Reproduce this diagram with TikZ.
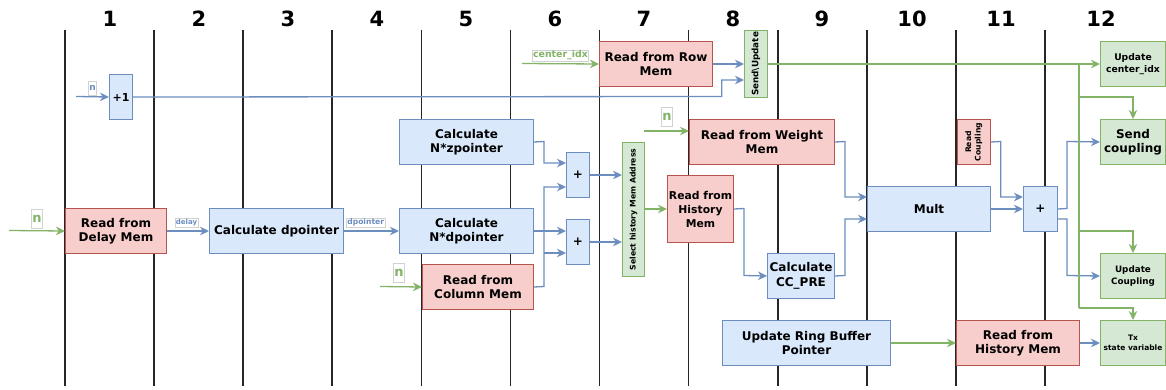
\documentclass[tikz,border=0pt]{standalone}
\usepackage{fontspec}
\setmainfont{DejaVu Sans}
\usetikzlibrary{arrows.meta}
\definecolor{bfill}{HTML}{DAE8FC}
\definecolor{bline}{HTML}{6C8EBF}
\definecolor{rfill}{HTML}{F8CECC}
\definecolor{rline}{HTML}{B85450}
\definecolor{gfill}{HTML}{D5E8D4}
\definecolor{gline}{HTML}{82B366}
\tikzset{
 box/.style={rectangle, line width=1pt, inner sep=0pt, anchor=north west, align=center, font=\fontsize{12}{14.5}\selectfont\bfseries},
 bbox/.style={box, fill=bfill, draw=bline},
 rbox/.style={box, fill=rfill, draw=rline},
 gbox/.style={box, fill=gfill, draw=gline},
 wire/.style={line width=1.3pt, -{Stealth[length=9pt,width=8.5pt,inset=2.8pt]}},
 bwire/.style={wire, draw=bline},
 gwire/.style={wire, draw=gline},
 gseg/.style={line width=1.3pt, draw=gline},
 lab/.style={draw=black!18, fill=white, inner sep=0.8pt, line width=0.6pt},
 blab/.style={lab, text=bline},
 glab/.style={lab, text=gline},
 colnum/.style={font=\fontsize{21}{21}\selectfont\bfseries},
 gridline/.style={line width=1.3pt, draw=black!85},
}
\begin{document}
\begin{tikzpicture}[x=1pt,y=-1pt]
\useasboundingbox (0,0) rectangle (1166,390);
% stage lines
\foreach \x in {65,154,243,332,421.5,510.5,599.5,688.5,778,867,956,1045}
  \draw[gridline] (\x,30) -- (\x,386);
% stage numbers
\foreach \x/\n in {110/1,199/2,288/3,377/4,466/5,555/6,644/7,733/8,822/9,912/10,1001/11,1101/12}
  \node[colnum] (c\n) at (\x,19) {\n};

% boxes
\node[bbox, minimum width=23pt, minimum height=45pt, font=\fontsize{11}{13}\selectfont\bfseries] (p1) at (109,74) {+1};
\node[rbox, minimum width=113pt, minimum height=45pt] (row) at (599,41) {Read from Row\\Mem};
\node[gbox, minimum width=23pt, minimum height=67pt, font=\fontsize{8.8}{10}\selectfont\bfseries] (su) at (744,30) {\rotatebox{90}{Send\textbackslash Update}};
\node[gbox, minimum width=65pt, minimum height=45pt, font=\fontsize{9.2}{11.5}\selectfont\bfseries] (uci) at (1100,41) {Update\\center\_idx};
\node[rbox, minimum width=101pt, minimum height=45pt] (dm) at (65,208) {Read from\\Delay Mem};
\node[bbox, minimum width=134pt, minimum height=45pt] (dp) at (209,208) {Calculate dpointer};
\node[bbox, minimum width=134pt, minimum height=45pt] (nz) at (399,119) {Calculate\\N*zpointer};
\node[bbox, minimum width=134pt, minimum height=45pt] (nd) at (399,208) {Calculate\\N*dpointer};
\node[rbox, minimum width=111pt, minimum height=45pt] (cm) at (422,264) {Read from\\Column Mem};
\node[bbox, minimum width=23pt, minimum height=45pt] (a1) at (566,152) {+};
\node[bbox, minimum width=23pt, minimum height=45pt] (a2) at (566,219) {+};
\node[gbox, minimum width=22pt, minimum height=134pt, font=\fontsize{7.7}{9}\selectfont\bfseries] (sel) at (622,142) {\rotatebox{90}{Select history Mem Address}};
\node[rbox, minimum width=66pt, minimum height=67pt, font=\fontsize{10.8}{14}\selectfont\bfseries] (hm) at (667,175) {Read from\\History\\Mem};
\node[rbox, minimum width=145pt, minimum height=45pt] (wm) at (689,119) {Read from Weight\\Mem};
\node[bbox, minimum width=67pt, minimum height=45pt] (cc) at (767,253) {Calculate\\CC\_PRE};
\node[bbox, minimum width=123pt, minimum height=45pt] (mu) at (867,186) {Mult};
\node[rbox, minimum width=33pt, minimum height=45pt, font=\fontsize{7.7}{9.5}\selectfont\bfseries] (rc) at (957,119) {\rotatebox{90}{\begin{tabular}{@{}c@{}}Read\\Coupling\end{tabular}}};
\node[bbox, minimum width=34pt, minimum height=45pt] (a3) at (1023,186) {+};
\node[gbox, minimum width=65pt, minimum height=45pt] (sc) at (1100,119) {Send\\coupling};
\node[gbox, minimum width=65pt, minimum height=45pt, font=\fontsize{8.8}{11.5}\selectfont\bfseries] (uc) at (1100,253) {Update\\Coupling};
\node[bbox, minimum width=168pt, minimum height=45pt] (rb) at (722,320) {Update Ring Buffer\\Pointer};
\node[rbox, minimum width=123pt, minimum height=45pt] (hm2) at (956,320) {Read from\\History Mem};
\node[gbox, minimum width=65pt, minimum height=45pt, font=\fontsize{7.5}{10}\selectfont\bfseries] (tx) at (1100,320) {Tx\\state variable};

% free input ends
\coordinate (n1) at (76,96.5);
\coordinate (nci) at (522,63.5);
\coordinate (nd0) at (9,230.5);
\coordinate (nw) at (644,131);
\coordinate (nc) at (380,286.5);

% blue connectors
\draw[bwire] (n1) -- (p1.west);
\draw[bwire] (p1.east) -- (721.7,96.5) -- (721.7,80) -- (su.west |- 0,80);
\draw[bwire] (row.east) -- (row.east -| su.west);
\draw[bwire] (dm.east) -- (dp.west);
\draw[bwire] (dp.east) -- (nd.west);
\draw[bwire] (nz.east) -- (544,141.5) -- (544,163) -- (a1.west |- 0,163);
\draw[bwire] (cm.east) -- (544,286.5) -- (544,187) -- (a1.west |- 0,187);
\draw[bwire] (544,253) -- (a2.west |- 0,253);
\draw[bwire] (nd.east) -- (nd.east -| a2.west);
\draw[bwire] (a1.east) -- (a1.east -| sel.west);
\draw[bwire] (a2.east) -- (a2.east -| sel.west);
\draw[bwire] (hm.east) -- (744,208.5) -- (744,275.5) -- (cc.west);
\draw[bwire] (wm.east) -- (845,141.5) -- (845,197) -- (mu.west |- 0,197);
\draw[bwire] (cc.east) -- (845,275.5) -- (845,219) -- (mu.west |- 0,219);
\draw[bwire] (rc.east) -- (1000.7,141.5) -- (1000.7,197) -- (a3.west |- 0,197);
\draw[bwire] (mu.east) -- (a3.west);
\draw[bwire] (a3.east) -- (1067,208.5) -- (1067,141.5) -- (sc.west);
\draw[bwire] (a3.east |- 0,219) -- (1067,219) -- (1067,275.5) -- (uc.west);
\draw[bwire] (hm2.east) -- (tx.west);

% green connectors
\draw[gwire] (nci) -- (row.west);
\draw[gwire] (nd0) -- (dm.west);
\draw[gwire] (nw) -- (nw -| wm.west);
\draw[gwire] (nc) -- (cm.west);
\draw[gwire] (sel.east |- hm.west) -- (hm.west);
\draw[gwire] (rb.east) -- (hm2.west);
\draw[gwire] (su.east |- uci.west) -- (uci.west);
\draw[gseg] (1079,63.5) -- (1079,308);
\draw[gwire] (1079,97) -| (sc.north);
\draw[gwire] (1079,231) -| (uc.north);
\draw[gwire] (1079,308) -| (tx.north);

% labels
\node[blab, font=\fontsize{9}{9}\selectfont\bfseries, minimum width=7pt, minimum height=14pt] (ln1) at (92.5,88) {n};
\node[glab, font=\fontsize{9.4}{9.4}\selectfont\bfseries] (lci) at (560.5,55.5) {center\_idx};
\node[glab, font=\fontsize{13}{13}\selectfont\bfseries, minimum width=10pt, minimum height=19pt] (ln2) at (37,218.5) {n};
\node[blab, font=\fontsize{7}{7}\selectfont\bfseries] (ldel) at (186.5,223) {delay};
\node[blab, font=\fontsize{7.6}{7.6}\selectfont\bfseries] (ldp) at (365.7,222.5) {dpointer};
\node[glab, font=\fontsize{13}{13}\selectfont\bfseries, minimum width=10pt, minimum height=19pt] (ln3) at (667,117) {n};
\node[glab, font=\fontsize{13}{13}\selectfont\bfseries, minimum width=10pt, minimum height=19pt] (ln4) at (399,272.5) {n};
\end{tikzpicture}
\end{document}
